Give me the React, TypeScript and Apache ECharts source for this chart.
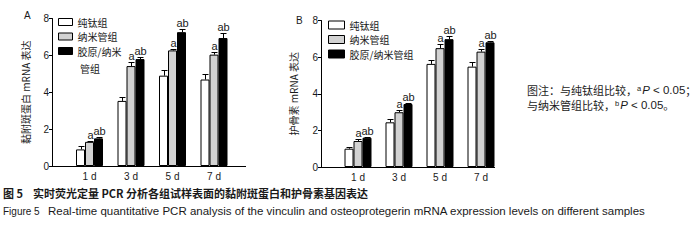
import React, { useEffect, useRef } from "react";
import * as echarts from "echarts";

const categories = ["1 d", "3 d", "5 d", "7 d"];
const seriesNames = ["纯钛组", "纳米管组", "胶原/纳米管组"];
const sigLabels = ["", "a", "ab"];

// Panel A: vinculin mRNA
const vinculinPure = [0.9, 3.53, 4.9, 4.69];
const vinculinPureSd = [0.18, 0.22, 0.29, 0.28];
const vinculinNano = [1.31, 5.42, 6.27, 6.04];
const vinculinNanoSd = [0.05, 0.2, 0.09, 0.14];
const vinculinColl = [1.5, 5.8, 7.26, 6.94];
const vinculinCollSd = [0.05, 0.12, 0.18, 0.26];

// Panel B: osteoprotegerin mRNA
const opgPure = [1.0, 2.44, 5.63, 5.48];
const opgPureSd = [0.08, 0.18, 0.22, 0.27];
const opgNano = [1.42, 2.99, 6.49, 6.3];
const opgNanoSd = [0.12, 0.12, 0.2, 0.13];
const opgColl = [1.6, 3.44, 6.98, 6.81];
const opgCollSd = [0.05, 0.04, 0.18, 0.08];

const yTicks = { min: 0, max: 8, interval: 2 };

const BAR_W = 9;
const LATIN = "'Liberation Sans', Arial, sans-serif";
const CJK = "'Noto Sans CJK SC', sans-serif";
const INK = "#1a1a1a";
const fills = ["#ffffff", "#d2d2d2", "#000000"];

// layout
const A = { left: 68.75, width: 166, top: 18.5, bottom: 166, axisX: 52, axisEnd: 246 };
const B = { left: 337.5, width: 164, top: 20.5, bottom: 167, axisX: 321, axisEnd: 495 };

function buildPanel(idx: number, vals: number[][], sds: number[][], P: any) {
  const bars = vals.map((v, k) => ({
    name: seriesNames[k],
    type: "bar",
    xAxisIndex: idx,
    yAxisIndex: idx,
    data: v,
    barWidth: BAR_W,
    barGap: "0%",
    itemStyle: { color: fills[k], borderColor: "#000", borderWidth: 1 },
    emphasis: { disabled: true },
  }));
  const errData: number[][] = [];
  vals.forEach((v, k) => v.forEach((val, i) => errData.push([i, val, k, sds[k][i]])));
  const err = {
    type: "custom",
    xAxisIndex: idx,
    yAxisIndex: idx,
    clip: false,
    encode: { x: 0, y: 1 },
    data: errData,
    renderItem: (params: any, api: any) => {
      const cat = api.value(0);
      const v = api.value(1);
      const k = api.value(2);
      const sd = api.value(3);
      const base = api.coord([cat, v]);
      const top = api.coord([cat, v + sd]);
      const x = Math.round(base[0] + (k - 1) * BAR_W) + 0.5;
      const ty = Math.round(top[1]) + 0.5;
      const children: any[] = [
        { type: "line", shape: { x1: x, y1: base[1], x2: x, y2: ty }, style: { stroke: "#000", lineWidth: 1 } },
        { type: "line", shape: { x1: x - 3, y1: ty, x2: x + 3, y2: ty }, style: { stroke: "#000", lineWidth: 1 } },
      ];
      const lab = sigLabels[k];
      if (lab) {
        children.push({
          type: "text",
          x: x,
          y: ty - 1,
          style: { text: lab, align: "center", verticalAlign: "bottom", fontSize: 11, fontFamily: LATIN, fill: INK },
        });
      }
      return { type: "group", children };
    },
  };
  const grid = { left: P.left, width: P.width, top: P.top, height: P.bottom - P.top };
  const xAxis = {
    type: "category",
    gridIndex: idx,
    data: categories,
    axisLine: { show: false },
    axisTick: { show: false },
    axisLabel: { color: INK, fontSize: 10, fontFamily: LATIN, margin: 5 },
  };
  const yAxis = {
    type: "value",
    gridIndex: idx,
    min: yTicks.min,
    max: yTicks.max,
    interval: yTicks.interval,
    offset: P.left - P.axisX,
    splitLine: { show: false },
    axisLine: { show: true, lineStyle: { color: "#000", width: 1 } },
    axisTick: { show: true, length: 3, lineStyle: { color: "#000" } },
    axisLabel: { color: INK, fontSize: 10, fontFamily: LATIN, margin: 3 },
    nameLocation: "middle",
    nameRotate: 90,
    nameTextStyle: { color: INK, fontSize: 10, fontFamily: CJK },
  };
  return { grid, xAxis, yAxis, series: [...bars, err] };
}

const noteRich = {
  sup: { fontSize: 7.5, fontFamily: LATIN, fill: INK, verticalAlign: "top", padding: [0, 1, 4, 0] },
  it: { fontSize: 11.5, fontStyle: "italic", fontFamily: LATIN, fill: INK },
  lat: { fontSize: 11.5, fontFamily: LATIN, fill: INK },
};

export default function App() {
  const ref = useRef<HTMLDivElement>(null);
  useEffect(() => {
    if (!ref.current) return;
    const chart = echarts.init(ref.current, undefined, { renderer: "svg" });
    const pa = buildPanel(0, [vinculinPure, vinculinNano, vinculinColl], [vinculinPureSd, vinculinNanoSd, vinculinCollSd], A);
    const pb = buildPanel(1, [opgPure, opgNano, opgColl], [opgPureSd, opgNanoSd, opgCollSd], B);
    (pa.yAxis as any).name = "黏附斑蛋白 mRNA 表达";
    (pa.yAxis as any).nameGap = 22;
    (pb.yAxis as any).name = "护骨素 mRNA 表达";
    (pb.yAxis as any).nameGap = 23;

    const legendBase = {
      orient: "vertical",
      selectedMode: false,
      icon: "rect",
      data: seriesNames,
      itemStyle: { borderColor: "#000", borderWidth: 1 },
      textStyle: { color: INK, fontSize: 10, fontFamily: CJK, lineHeight: 12 },
      padding: 0,
    };

    const option: any = {
      animation: false,
      backgroundColor: "#ffffff",
      grid: [pa.grid, pb.grid],
      xAxis: [pa.xAxis, pb.xAxis],
      yAxis: [pa.yAxis, pb.yAxis],
      legend: [
        {
          ...legendBase,
          left: 58,
          top: 16,
          itemWidth: 14,
          itemHeight: 7,
          itemGap: 2.5,
          formatter: (n: string) => (n === "胶原/纳米管组" ? "胶原/纳米" : n),
        },
        {
          ...legendBase,
          left: 328,
          top: 19,
          itemWidth: 16,
          itemHeight: 8,
          itemGap: 2.5,
        },
      ],
      series: [...pa.series, ...pb.series],
      graphic: [
        { type: "line", shape: { x1: A.axisX, y1: A.bottom + 0.5, x2: A.axisEnd, y2: A.bottom + 0.5 }, style: { stroke: "#000", lineWidth: 1 } },
        { type: "line", shape: { x1: B.axisX, y1: B.bottom + 0.5, x2: B.axisEnd, y2: B.bottom + 0.5 }, style: { stroke: "#000", lineWidth: 1 } },
        { type: "text", x: 80, y: 68, style: { text: "管组", fontSize: 10, fontFamily: CJK, fill: INK, verticalAlign: "middle" } },
        { type: "text", x: 24, y: 15, style: { text: "A", fontSize: 10, fontFamily: LATIN, fill: INK, verticalAlign: "middle" } },
        { type: "text", x: 296, y: 20, style: { text: "B", fontSize: 10, fontFamily: LATIN, fill: INK, verticalAlign: "middle" } },
        {
          type: "text",
          x: 527,
          y: 90,
          style: {
            text: "图注：与纯钛组比较，{sup|a}{it|P}{lat| < 0.05}；",
            fontSize: 11,
            fontFamily: CJK,
            fill: INK,
            verticalAlign: "middle",
            rich: noteRich,
          },
        },
        {
          type: "text",
          x: 527,
          y: 105,
          style: {
            text: "与纳米管组比较，{sup|b}{it|P}{lat| < 0.05}。",
            fontSize: 11,
            fontFamily: CJK,
            fill: INK,
            verticalAlign: "middle",
            rich: noteRich,
          },
        },
        { type: "text", x: 3, y: 193, style: { text: "图 5", fontSize: 11, fontWeight: "bold", fontFamily: CJK, fill: INK, verticalAlign: "middle" } },
        { type: "text", x: 33, y: 193, style: { text: "实时荧光定量 PCR 分析各组试样表面的黏附斑蛋白和护骨素基因表达", fontSize: 11, fontWeight: "bold", fontFamily: CJK, fill: INK, verticalAlign: "middle" } },
        { type: "text", x: 3, y: 211, style: { text: "Figure 5", fontSize: 10, fontFamily: LATIN, fill: INK, verticalAlign: "middle" } },
        { type: "text", x: 48, y: 211, style: { text: "Real-time quantitative PCR analysis of the vinculin and osteoprotegerin mRNA expression levels on different samples", fontSize: 11.5, fontFamily: LATIN, fill: INK, verticalAlign: "middle" } },
      ],
    };
    chart.setOption(option);
    return () => chart.dispose();
  }, []);
  return <div ref={ref} style={{ position: "absolute", left: 0, top: 0, width: 700, height: 242 }} />;
}
